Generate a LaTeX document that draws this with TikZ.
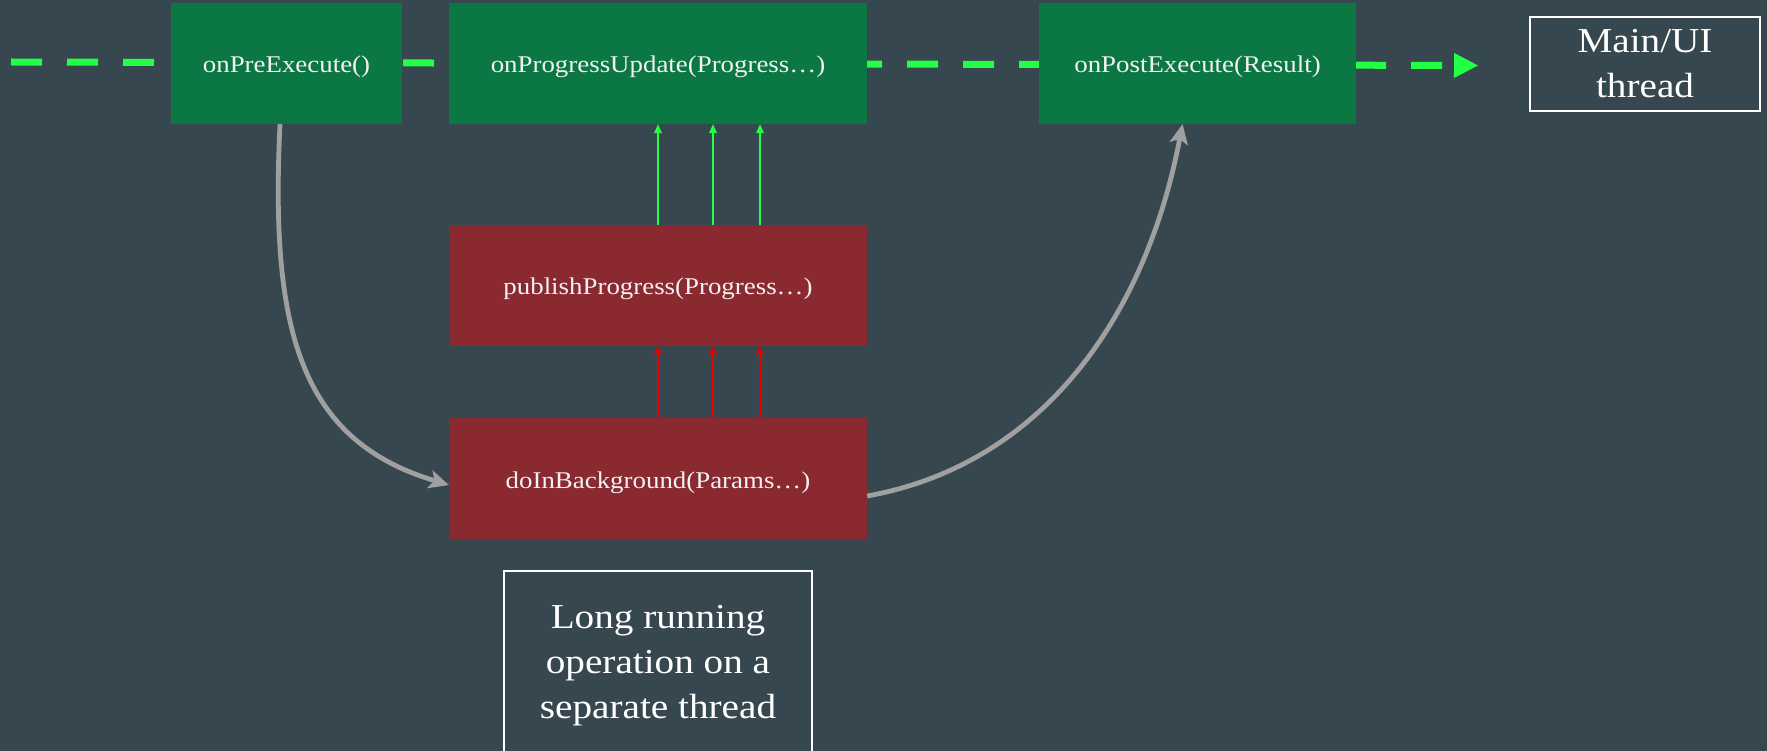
\documentclass[tikz,border=0pt]{standalone}
\usepackage{fontspec}
\setmainfont{Liberation Serif}[FakeStretch=1.12]
\usetikzlibrary{arrows.meta}
\definecolor{bgcol}{RGB}{55,71,79}
\definecolor{boxgreen}{RGB}{11,119,67}
\definecolor{boxred}{RGB}{138,41,48}
\definecolor{dgreen}{RGB}{34,255,68}
\definecolor{curvegray}{RGB}{160,160,160}
\definecolor{redarrow}{RGB}{235,0,0}
\definecolor{txtcol}{RGB}{242,242,242}
\begin{document}
\begin{tikzpicture}[x=1pt,y=-1pt,
  gbox/.style={rectangle, fill=boxgreen, inner sep=0pt, text=txtcol,
    text height=19pt, text depth=0pt,
    font=\fontsize{24}{29}\selectfont},
  rbox/.style={rectangle, fill=boxred, inner sep=0pt, text=txtcol,
    text height=19pt, text depth=0pt,
    font=\fontsize{24}{29}\selectfont},
  wbox/.style={rectangle, draw=white, line width=2pt, inner sep=0pt, text=white,
    align=center, font=\fontsize{35}{45}\selectfont},
  dashline/.style={draw=dgreen, line width=7pt, dash pattern=on 31pt off 25pt,
    -{Triangle[length=24pt,width=25pt,line width=0pt]}},
  graycurve/.style={draw=curvegray, line width=4.8pt,
    -{Stealth[length=20pt,width=19pt,inset=5pt,line width=0pt]}},
  garrow/.style={draw=dgreen, line width=2pt,
    -{Triangle[length=9pt,width=8pt,line width=0pt]}},
  rarrow/.style={draw=redarrow, line width=2pt,
    -{Stealth[length=9pt,width=9pt,inset=2.5pt,line width=0pt]}}
]
\fill[bgcol] (0,0) rectangle (1767,751);
\useasboundingbox (0,0) rectangle (1767,751);

% main thread dashed line
\coordinate (ds) at (11,62);
\coordinate (de) at (1478,65.5);
\draw[dashline] (ds) -- (de);

% boxes
\node[gbox, minimum width=231pt, minimum height=121pt] (pre) at (286.5,63.5) {onPreExecute()};
\node[gbox, minimum width=418pt, minimum height=121pt] (prog) at (658,63.5) {onProgressUpdate(Progress…)};
\node[gbox, minimum width=317pt, minimum height=121pt] (post) at (1197.5,63.5) {onPostExecute(Result)};
\node[rbox, minimum width=418pt, minimum height=121pt] (pub) at (658,285.5) {publishProgress(Progress…)};
\node[rbox, minimum width=418pt, minimum height=121pt] (bg) at (658,478.5) {doInBackground(Params…)};

\node[wbox, minimum width=230pt, minimum height=94pt] (main) at (1645,64) {Main/UI\\thread};
\node[wbox, text depth=0pt, minimum width=308pt, minimum height=181pt] (long) at (658,661.5) {Long running\\operation on a\\separate thread};

% small arrows
\foreach \dx in {0,55,102}{
  \draw[garrow] ([xshift=\dx pt]pub.north) -- ([xshift=\dx pt]prog.south);
  \draw[rarrow] ([xshift=\dx pt]bg.north) -- ([xshift=\dx pt]pub.south);
}

% gray curves
\draw[graycurve] ([xshift=-6.5pt]pre.south) .. controls (270,330) and (300,440) .. ([yshift=-6.5pt]bg.west);
\draw[graycurve] ([yshift=-17.5pt]bg.east) .. controls (1040,465) and (1145,320) .. ([xshift=-15pt]post.south);
\end{tikzpicture}
\end{document}
